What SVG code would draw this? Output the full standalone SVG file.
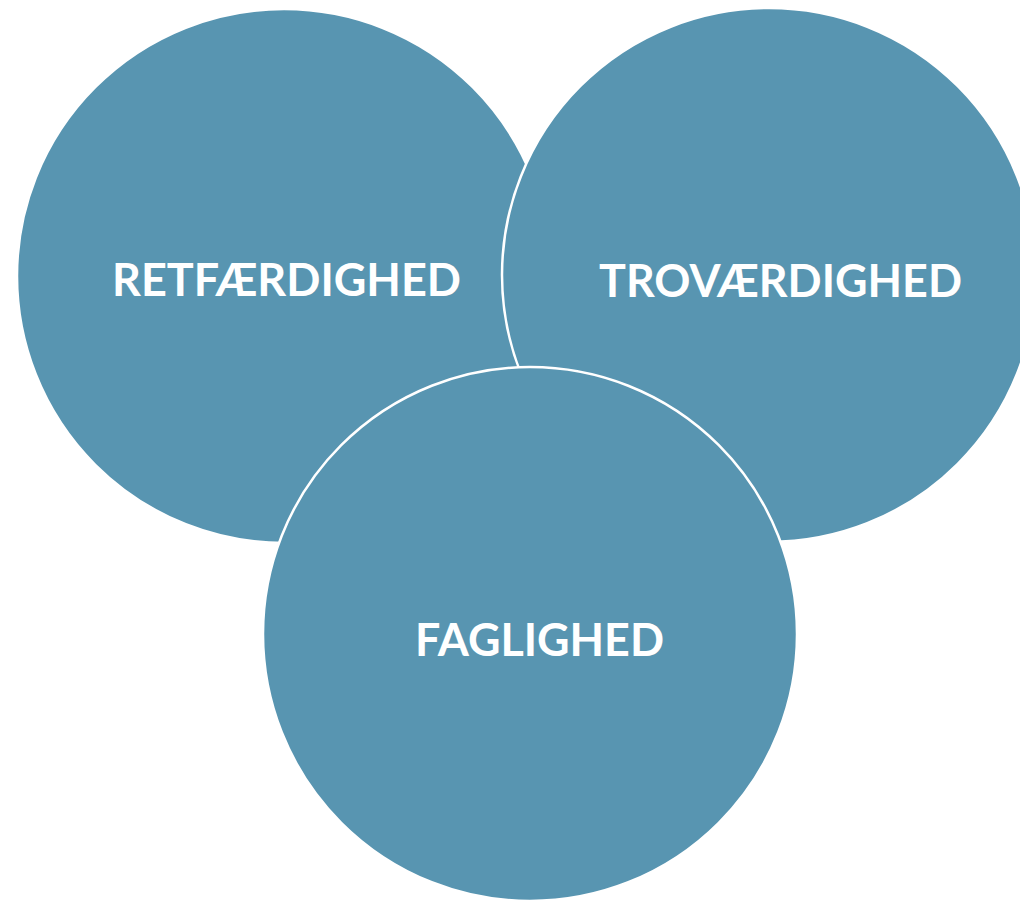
<svg xmlns="http://www.w3.org/2000/svg" width="1020" height="900" viewBox="0 0 1020 900">
<style>
.c{fill:#5895B1;stroke:#FFFFFF;stroke-width:2.5}
.t{fill:#FFFFFF;font-family:Lato,"Open Sans","Liberation Sans",sans-serif;font-weight:bold;font-size:45px;text-anchor:middle}
</style>
<rect width="1020" height="900" fill="#FFFFFF"/>
<g id="retfaerdighed">
<circle class="c" cx="284" cy="276" r="267"/>
<text class="t" x="286.5" y="296" textLength="349" lengthAdjust="spacingAndGlyphs">RETFÆRDIGHED</text>
</g>
<g id="trovaerdighed">
<circle class="c" cx="769" cy="275" r="267"/>
<text class="t" x="780.5" y="297" textLength="363" lengthAdjust="spacingAndGlyphs">TROVÆRDIGHED</text>
</g>
<g id="faglighed">
<circle class="c" cx="530" cy="634" r="267"/>
<text class="t" x="539.5" y="656" textLength="249" lengthAdjust="spacingAndGlyphs">FAGLIGHED</text>
</g>
<g id="connectors"/>
</svg>
